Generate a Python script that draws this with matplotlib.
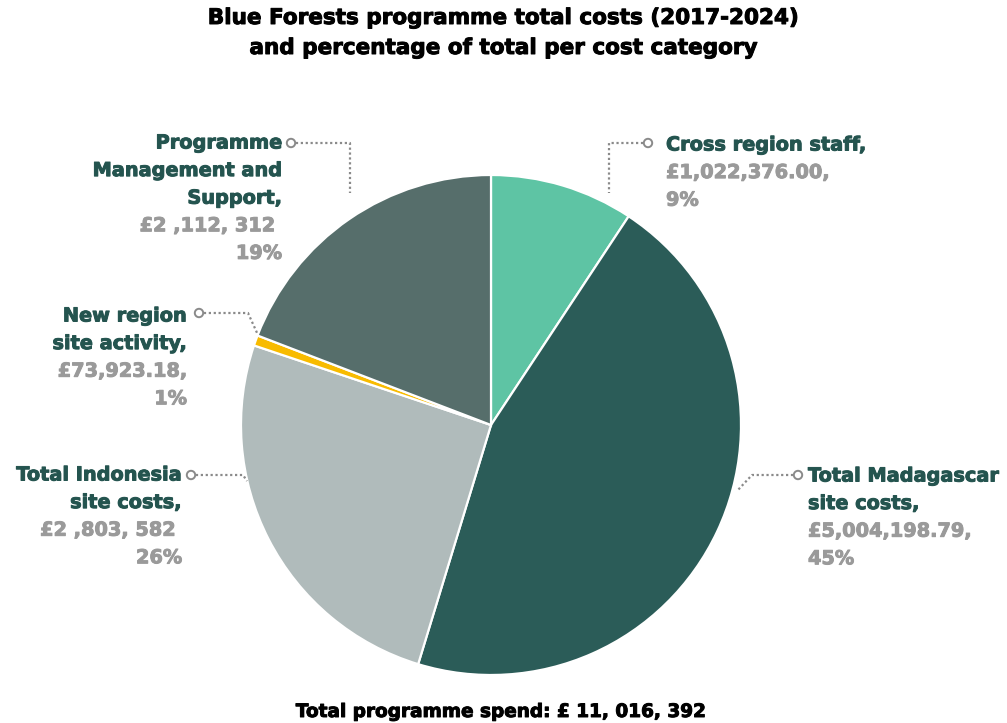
import matplotlib
matplotlib.use("Agg")
import matplotlib.pyplot as plt
import matplotlib.patheffects as pe
from matplotlib.patches import Circle

# ---- data ----
categories = ["Cross region staff", "Total Madagascar site costs", "Total Indonesia site costs",
              "New region site activity", "Programme Management and Support"]
costs = [1022376.00, 5004198.79, 2803582, 73923.18, 2112312]
value_labels = ["£1,022,376.00,", "£5,004,198.79,", "£2 ,803, 582 ", "£73,923.18,", "£2 ,112, 312 "]
pct_labels = ["9%", "45%", "26%", "1%", "19%"]
name_lines = [["Cross region staff,"],
              ["Total Madagascar", "site costs,"],
              ["Total Indonesia", "site costs,"],
              ["New region", "site activity,"],
              ["Programme", "Management and", "Support,"]]
colors = ["#5ec4a4", "#2b5c58", "#b0bbbb", "#f8bb00", "#566e6b"]
title_lines = ["Blue Forests programme total costs (2017-2024)",
               "and percentage of total per cost category"]
footer = "Total programme spend: £ 11, 016, 392"

W, H = 1007, 723
fig = plt.figure(figsize=(W / 100, H / 100), dpi=100)
ax = fig.add_axes([0, 0, 1, 1])

def Y(py):
    return H - py

FONT = ["DejaVu Sans"]
GREEN = "#24544f"
GREY = "#9a9a9a"
LEADER = "#8a8a8a"
FS = 13.9
LS = 27.6

def heavy(c):
    return [pe.withStroke(linewidth=0.7, foreground=c)]

ax.pie(costs, colors=colors, startangle=90, counterclock=False,
       center=(491, Y(425)), radius=250, frame=True,
       wedgeprops=dict(edgecolor="white", linewidth=1.6))
ax.set_xlim(0, W)
ax.set_ylim(0, H)
ax.set_aspect("equal")
ax.axis("off")

# label layout: (x, first line y, ha, leader path in pixel coords)
layout = [
    (666, 145, "left", [(648, 143), (609, 143), (609, 193)]),
    (808, 476, "left", [(798, 475), (752, 475), (737, 491)]),
    (182, 475, "right", [(191, 475), (243, 475), (247, 481)]),
    (187, 316, "right", [(199, 313), (248, 313), (258, 335)]),
    (282, 143, "right", [(291, 143), (350, 143), (350, 193)]),
]

for i, (x, y0, ha, path) in enumerate(layout):
    lines = [(t, GREEN) for t in name_lines[i]] + [(value_labels[i], GREY), (pct_labels[i], GREY)]
    for j, (t, c) in enumerate(lines):
        ax.text(x, Y(y0 + j * LS), t, ha=ha, va="center", fontsize=FS,
                fontweight="bold", color=c, family=FONT, path_effects=heavy(c))
    xs = [p[0] for p in path]
    ys = [Y(p[1]) for p in path]
    ax.plot(xs, ys, linestyle=(0, (1, 1.2)), color=LEADER, linewidth=1.6)
    ax.add_patch(Circle((path[0][0], Y(path[0][1])), 4.2, facecolor="white",
                        edgecolor=LEADER, linewidth=1.4, zorder=5))

for k, t in enumerate(title_lines):
    ax.text(503, Y(18 + 30 * k), t, ha="center", va="center", fontsize=15.5, fontweight="bold",
            color="black", family=FONT, path_effects=heavy("black"))
ax.text(501, Y(712), footer, ha="center", va="center", fontsize=13.3, fontweight="bold",
        color="black", family=FONT, path_effects=heavy("black"))

fig.savefig("out.png", dpi=100)
